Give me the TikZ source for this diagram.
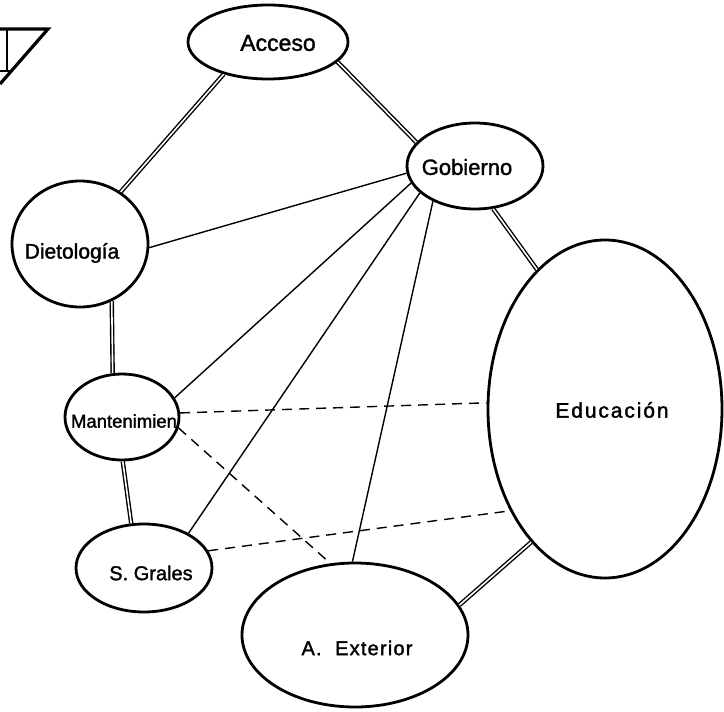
\documentclass[tikz,border=0pt]{standalone}
\usepackage{fontspec}
\setmainfont{Liberation Sans}[FakeBold=1.6,AutoFakeBold=1.6]
\usepackage{tikz}
\usetikzlibrary{shapes.geometric}

\tikzset{
  area/.style={ellipse, draw, line width=2.8pt, inner sep=0pt},
  tag/.style={inner sep=0pt, font=\bfseries},
  strong/.style={double, line width=1.4pt, double distance=1.6pt},
  weak/.style={line width=1.4pt},
  loose/.style={line width=1.4pt, dash pattern=on 10pt off 7pt},
}

\begin{document}
\begin{tikzpicture}[x=1pt,y=-1pt]
  \useasboundingbox (0,0) rectangle (724,712);

  % Corner of the neighbouring sheet
  \draw[line width=3.2pt] (0,29) -- (48,29) -- (0,84);
  \draw[line width=2.4pt] (7,29) -- (7,71) (0,71) -- (12,71);

  % Areas
  \node[area, minimum width=160pt, minimum height=74pt] (acc) at (268,42) {};
  \node[area, minimum width=136pt, minimum height=86pt] (gob) at (475,166) {};
  \node[area, minimum width=136pt, minimum height=126pt] (diet) at (80,244) {};
  \node[area, minimum width=114pt, minimum height=86pt] (mant) at (122,417) {};
  \node[area, minimum width=136pt, minimum height=88pt] (sg) at (144,568) {};
  \node[area, minimum width=226pt, minimum height=144pt] (aext) at (355,635) {};
  \node[area, minimum width=234pt, minimum height=338pt] (edu) at (605,409) {};

  % Names
  \node[tag, font=\fontsize{23}{26}\selectfont\bfseries] (acc-t) at (278,43) {Acceso};
  \node[tag, font=\fontsize{22}{25}\selectfont\bfseries] (gob-t) at (467,167) {Gobierno};
  \node[tag, font=\fontsize{21}{24}\selectfont\bfseries] (diet-t) at (72,253) {Dietología};
  \node[tag, font=\fontsize{18.5}{21}\selectfont\bfseries] (mant-t) at (124,421) {Mantenimien};
  \node[tag, font=\fontsize{20}{23}\selectfont\bfseries] (sg-t) at (151,573) {S. Grales};
  \node[tag, font=\fontsize{20}{23}\selectfont\bfseries\addfontfeatures{LetterSpace=6}] (aext-t) at (357,648) {A.\ \ Exterior};
  \node[tag, font=\fontsize{21}{24}\selectfont\bfseries\addfontfeatures{LetterSpace=9}] (edu-t) at (612,410) {Educación};

  % Strong links
  \draw[strong] (acc.216) -- (diet.52);
  \draw[strong] (acc.344) -- (gob.158);
  \draw[strong] (gob.293) -- (edu.116);
  \draw[strong] (diet.299) -- (mant.102);
  \draw[strong] (mant.271) -- (sg.106);
  \draw[strong] (aext.16) -- (edu.241);

  % Plain links from Gobierno
  \draw[weak] (gob.186) -- (diet.357);
  \draw[weak] (gob.195) -- (mant.20);
  \draw[weak] (gob.206) -- (sg.38);
  \draw[weak] (gob.220) -- (aext.92);

  % Dashed links
  \draw[loose] (mant.4) -- (edu.177);
  \draw[loose] (mant.-11) -- (aext.109);
  \draw[loose] (sg.15) -- (edu.227);
\end{tikzpicture}
\end{document}
